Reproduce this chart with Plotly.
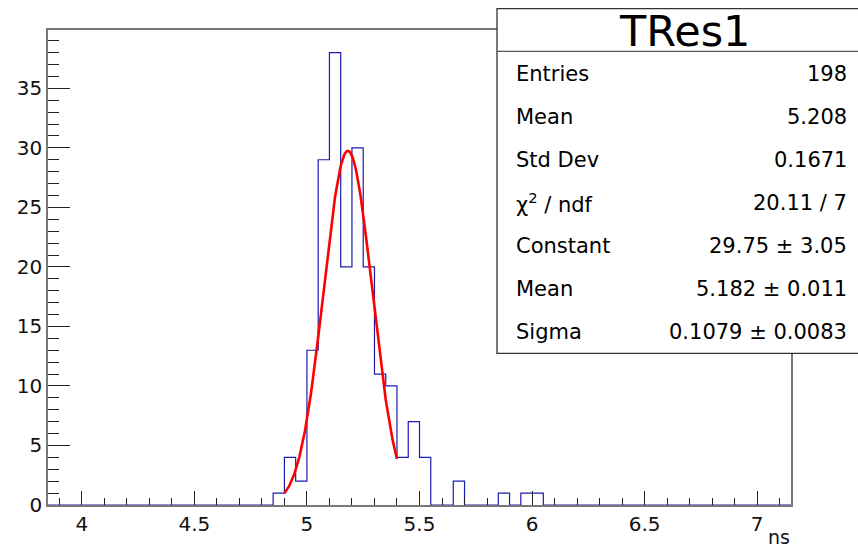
import numpy as np
import plotly.graph_objects as go

# Histogram binning: 66 bins of 0.05 ns between 3.85 and 7.15
x_min, x_max, n_bins = 3.85, 7.15, 66
# Bin contents starting at the 4.85 ns bin (all other bins are empty)
first_filled_low_edge = 4.85
filled_counts = [1, 4, 2, 13, 29, 38, 20, 30, 20, 11, 10, 4, 7, 4,
                 0, 0, 2, 0, 0, 0, 1, 0, 1, 1]

# Gaussian fit results shown in the stats box
fit_constant, fit_mean, fit_sigma = 29.75, 5.182, 0.1079
fit_range = (4.9, 5.4)

stat_labels = ["Entries", "Mean", "Std Dev", "χ<sup>2</sup> / ndf", "Constant", "Mean", "Sigma"]
stat_values = ["198", "5.208", "0.1671", "20.11 / 7", "29.75 ± 3.05", "5.182 ± 0.011", "0.1079 ± 0.0083"]

y_ticks = [0, 5, 10, 15, 20, 25, 30, 35]
x_ticks = [4, 4.5, 5, 5.5, 6, 6.5, 7]
x_tick_text = ["4", "4.5", "5", "5.5", "6", "6.5", "7"]

# ---- build full histogram arrays
width = (x_max - x_min) / n_bins
edges = x_min + width * np.arange(n_bins + 1)
counts = np.zeros(n_bins)
start = int(round((first_filled_low_edge - x_min) / width))
counts[start:start + len(filled_counts)] = filled_counts
y_max = 1.05 * counts.max()

# outline: up from the baseline, one step per bin, back down at the end
step_x = np.concatenate([[edges[0]], edges])
step_y = np.concatenate([[0], counts, [0]])

fx = np.linspace(fit_range[0], fit_range[1], 200)
fy = fit_constant * np.exp(-0.5 * ((fx - fit_mean) / fit_sigma) ** 2)

W, H = 858, 548
PL, PR, PT, PB = 48, 791, 30, 508
def px(p):
    return (p - PL) / (PR - PL)
def py(p):
    return (PB - p) / (PB - PT)

FONT = "DejaVu Sans, Liberation Sans, Arial, sans-serif"

fig = go.Figure()
fig.add_trace(go.Scatter(x=step_x, y=step_y, mode="lines", line_shape="hv",
                         line=dict(color="#1c1cb0", width=1.2),
                         hoverinfo="skip", showlegend=False))
fig.add_trace(go.Scatter(x=fx, y=fy, mode="lines",
                         line=dict(color="#ff0000", width=2.6),
                         hoverinfo="skip", showlegend=False))

axis_common = dict(showgrid=False, zeroline=False, showline=True, mirror=True,
                   linecolor="#777777", linewidth=1.5, ticks="inside",
                   tickcolor="#222222", tickwidth=1, layer="above traces",
                   tickfont=dict(family=FONT, size=20, color="#111111"))

fig.update_xaxes(range=[x_min, x_max], tickvals=x_ticks, ticktext=x_tick_text,
                 ticklen=14, minor=dict(dtick=0.1, ticklen=7, ticks="inside",
                                        tickcolor="#222222"),
                 **axis_common)
fig.update_yaxes(range=[0, y_max], tickvals=y_ticks, ticklen=22,
                 minor=dict(dtick=1, ticklen=11, ticks="inside", tickcolor="#222222"),
                 **axis_common)

# stats box
box_l, box_r, box_t, box_b, box_sep = 497, 870, 8.5, 355.5, 51.5
shapes = [
    dict(type="rect", xref="paper", yref="paper", x0=px(box_l), x1=px(box_r),
         y0=py(box_b), y1=py(box_t), line=dict(color="#333333", width=1.3),
         fillcolor="white", layer="above"),
    dict(type="line", xref="paper", yref="paper", x0=px(box_l), x1=px(box_r),
         y0=py(box_sep), y1=py(box_sep), line=dict(color="#555555", width=1.3),
         layer="above"),
]
annotations = [
    dict(text="TRes1", xref="paper", yref="paper", x=px(684), y=py(31),
         xanchor="center", yanchor="middle", showarrow=False,
         font=dict(family=FONT, size=43, color="black")),
    dict(text="ns", xref="paper", yref="paper", x=px(791), y=py(537),
         xanchor="right", yanchor="middle", showarrow=False, borderpad=0,
         yshift=-3, font=dict(family=FONT, size=19, color="#111111")),
]
row_y0, row_dy = 74, 43.3
for i, (lab, val) in enumerate(zip(stat_labels, stat_values)):
    yy = py(row_y0 + i * row_dy)
    annotations.append(dict(text=lab, xref="paper", yref="paper", x=px(514), y=yy,
                            xanchor="left", yanchor="middle", showarrow=False,
                            font=dict(family=FONT, size=21, color="black")))
    annotations.append(dict(text=val, xref="paper", yref="paper", x=px(849), y=yy,
                            xanchor="right", yanchor="middle", showarrow=False,
                            font=dict(family=FONT, size=21, color="black")))

fig.update_layout(width=W, height=H, margin=dict(l=PL, r=W - PR, t=PT, b=H - PB),
                  paper_bgcolor="white", plot_bgcolor="white",
                  shapes=shapes, annotations=annotations, showlegend=False)

fig.write_html("out.html", config={"displayModeBar": False})
